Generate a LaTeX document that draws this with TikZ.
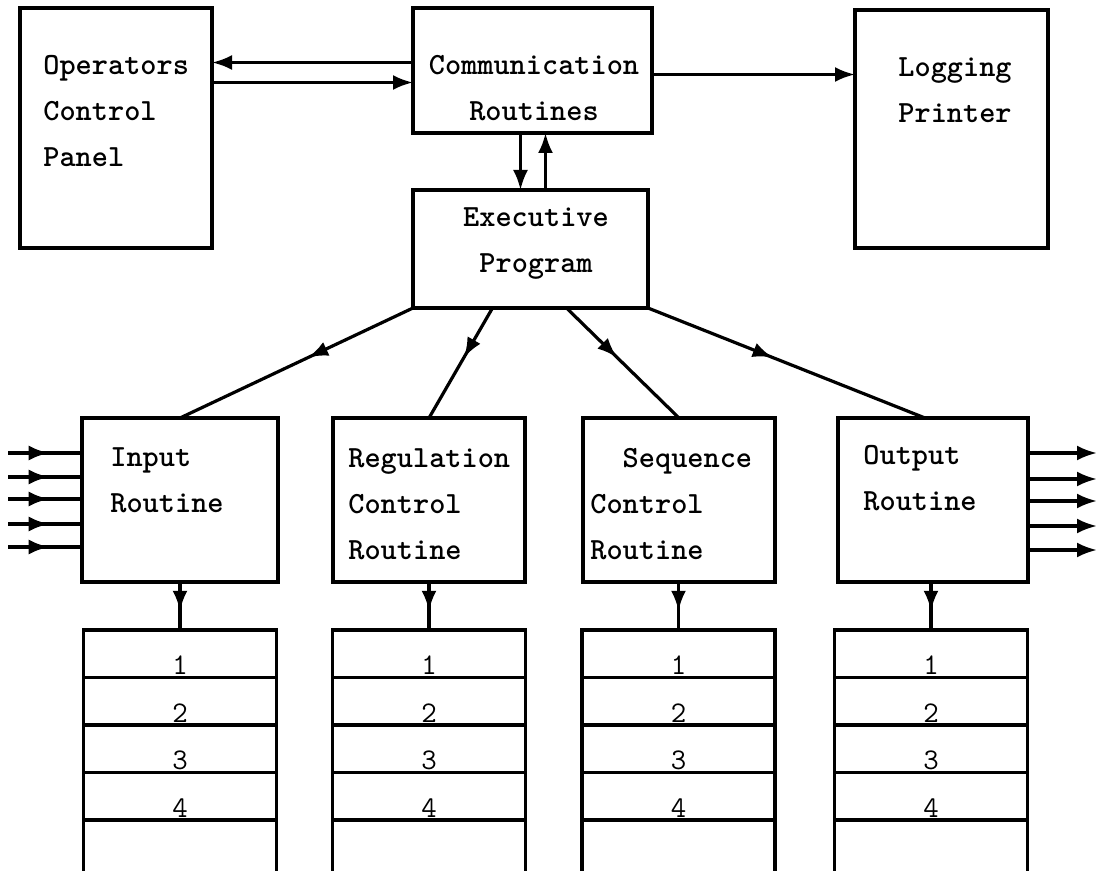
\documentclass[tikz,border=0pt]{standalone}
\usepackage{fontspec}
\usetikzlibrary{calc,arrows.meta,decorations.markings}

\tikzset{
  box/.style={draw, line width=1.6pt, inner sep=0pt, outer sep=0pt},
  txt/.style={font=\ttfamily\bfseries\fontsize{15.4}{23}\selectfont, inner sep=0pt},
  cell/.style={draw, line width=1.6pt, inner sep=0pt, outer sep=0pt,
    minimum width=96.5pt, minimum height=23.75pt, text height=21pt, text depth=0pt,
    font=\ttfamily\fontsize{15}{16}\selectfont},
  arr/.style={line width=1.6pt, -{Latex[length=10pt,width=7.5pt]}},
  midarr/.style={line width=1.6pt, postaction={decorate},
    decoration={markings, mark=at position #1 with {\arrow{Latex[length=10pt,width=7.5pt]}}}},
  midarr/.default=0.5
}

\begin{document}
\begin{tikzpicture}[x=0.5pt, y=-0.5pt]
      \useasboundingbox (0,0) rectangle (1098,871);
      % top row
      \node (ops) at (116,128) [box, minimum width=96pt, minimum height=120pt] {};
      \node (opstxt) at (43,111) [txt, anchor=west, align=left] {Operators\\Control\\Panel};
      \node (comm) at (532.5,70.5) [box, minimum width=119.5pt, minimum height=62.5pt] {};
      \node (commtxt) at (534,88) [txt, align=center] {Communication\\Routines};
      \node (log) at (951.5,129) [box, minimum width=96.5pt, minimum height=119pt] {};
      \node (logtxt) at (898,90) [txt, anchor=west, align=left] {Logging\\Printer};
      \node (exec) at (530.5,249) [box, minimum width=117.5pt, minimum height=59pt] {};
      \node (exectxt) at (536,244) [txt, align=center] {Executive\\Program};
      % routines
      \node (inp) at (180,500) [box, minimum width=98pt, minimum height=82pt] {};
      \node (inptxt) at (110,480) [txt, anchor=west, align=left] {Input\\Routine};
      \node (reg) at (429,500) [box, minimum width=96pt, minimum height=82pt] {};
      \node (regtxt) at (348,504) [txt, anchor=west, align=left] {Regulation\\Control\\Routine};
      \node (seq) at (679,500) [box, minimum width=96pt, minimum height=82pt] {};
      \node (seqtxt) at (590,504) [txt, anchor=west, align=left] {\phantom{XX}Sequence\\Control\\Routine};
      \node (out) at (933,500) [box, minimum width=95pt, minimum height=82pt] {};
      \node (outtxt) at (863,478) [txt, anchor=west, align=left] {Output\\Routine};
      % tables
      \foreach \s/\x in {a/180, b/429, c/678.5, d/931} {
        \foreach \i in {1,...,4}
          \node (\s\i) at (\x,{630+47.5*(\i-0.5)}) [cell] {\i};
        \draw[line width=1.6pt] (\s4.south west) -- ++(0,51) (\s4.south east) -- ++(0,51);
      }
      % connectors
      \draw[arr] ([yshift=4pt]comm.west) to ([yshift=4pt]comm.west -| ops.east);
      \draw[arr] ([yshift=-6pt]comm.west -| ops.east) to ([yshift=-6pt]comm.west);
      \draw[arr] ([yshift=-2pt]comm.east) to ([yshift=-2pt]comm.east -| log.west);
      \draw[arr] ([xshift=-6pt]comm.south) to ([xshift=-6pt]comm.south |- exec.north);
      \draw[arr] ([xshift=6.5pt]comm.south |- exec.north) to ([xshift=6.5pt]comm.south);
      \draw[midarr=0.45] (exec.south west) to (inp.north);
      \draw[midarr=0.45] ([xshift=-19pt]exec.south) to (reg.north);
      \draw[midarr=0.45] ([xshift=18pt]exec.south) to (seq.north);
      \draw[midarr=0.45] (exec.south east) to ([xshift=-4pt]out.north);
      \draw[midarr=0.6] (inp.south -| a1.north) to (a1.north);
      \draw[midarr=0.6] (reg.south -| b1.north) to (b1.north);
      \draw[midarr=0.6] (seq.south -| c1.north) to (c1.north);
      \draw[midarr=0.6] (out.south -| d1.north) to (d1.north);
      \foreach \i/\y in {1/453, 2/477, 3/499, 4/524, 5/547} {
        \coordinate (src\i) at (8,\y);
        \draw[midarr=0.55] (src\i) to (src\i -| inp.west);
      }
      \foreach \i/\y in {1/453, 2/479, 3/501, 4/526, 5/550} {
        \coordinate (dst\i) at (1097,\y);
        \draw[arr] (dst\i -| out.east) to (dst\i);
      }
\end{tikzpicture}
\end{document}
